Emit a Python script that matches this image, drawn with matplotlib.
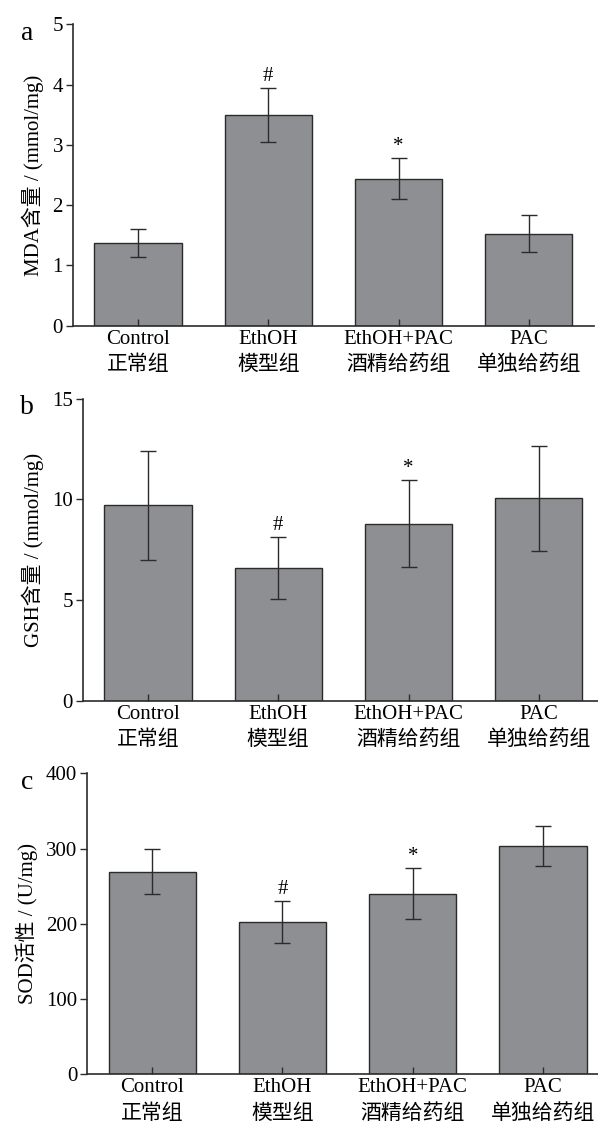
import matplotlib
matplotlib.use("Agg")
import matplotlib.pyplot as plt
from matplotlib.ticker import FixedLocator

plt.rcParams['font.family'] = ['Liberation Serif', 'Noto Sans CJK SC']

groups = ["Control\n正常组", "EthOH\n模型组", "EthOH+PAC\n酒精给药组", "PAC\n单独给药组"]
marks = ["", "#", "*", ""]

mda = [1.37, 3.50, 2.44, 1.53]
mda_err = [0.235, 0.45, 0.335, 0.30]

gsh = [9.7, 6.6, 8.8, 10.05]
gsh_err = [2.7, 1.55, 2.15, 2.62]

sod = [269, 202, 240, 303]
sod_err = [30, 28, 34, 26.5]

panels = [
    ("a", mda, mda_err, "MDA含量 / (mmol/mg)", 5, [0, 1, 2, 3, 4, 5]),
    ("b", gsh, gsh_err, "GSH含量 / (mmol/mg)", 15, [0, 5, 10, 15]),
    ("c", sod, sod_err, "SOD活性 / (U/mg)", 400, [0, 100, 200, 300, 400]),
]
# axes boxes in figure fraction (left, bottom, width, height)
boxes = [
    [0.1216, 0.7102, 0.8717, 0.2681],
    [0.1383, 0.3766, 0.8717, 0.2687],
    [0.1455, 0.0442, 0.8717, 0.2678],
]

bar_color = "#8e8f93"
dark = "#2b2b2b"

fig = plt.figure(figsize=(5.98, 11.24), dpi=100)

for (letter, vals, errs, ylabel, ymax, yticks), box in zip(panels, boxes):
    ax = fig.add_axes(box)
    x = list(range(len(groups)))
    ax.bar(x, vals, width=0.67, color=bar_color, edgecolor=dark, linewidth=1.0,
           yerr=errs, capsize=6,
           error_kw=dict(ecolor=dark, elinewidth=1.0, capthick=1.0))
    for xi, v, e, m in zip(x, vals, errs, marks):
        if m:
            ax.annotate(m, (xi, v + e), xytext=(0, 1.5), textcoords="offset points",
                        ha="center", va="bottom", fontsize=15)
    ax.set_xlim(-0.5, 3.5)
    ax.set_ylim(0, ymax)
    ax.set_yticks(yticks)
    ax.set_xticks(x)
    ax.set_xticklabels(groups, fontsize=15, linespacing=1.45)
    ax.tick_params(axis="y", direction="out", length=5, width=1.0, labelsize=15,
                   pad=2, color=dark)
    ax.tick_params(axis="x", direction="in", length=5, width=1.0, pad=3, color=dark)
    # small inward tick at the top of the y axis
    ax.yaxis.set_minor_locator(FixedLocator([ymax]))
    ax.tick_params(axis="y", which="minor", direction="in", length=6, width=1.0,
                   color=dark)
    ax.spines["top"].set_visible(False)
    ax.spines["right"].set_visible(False)
    for s in ("left", "bottom"):
        ax.spines[s].set_linewidth(1.2)
        ax.spines[s].set_color(dark)
    ax.set_ylabel(ylabel, fontsize=15, labelpad=6)
    top = box[1] + box[3]
    fig.text(0.056, top - 0.008, letter, fontsize=20, ha="right", va="center")

fig.savefig("out.png", dpi=100)
